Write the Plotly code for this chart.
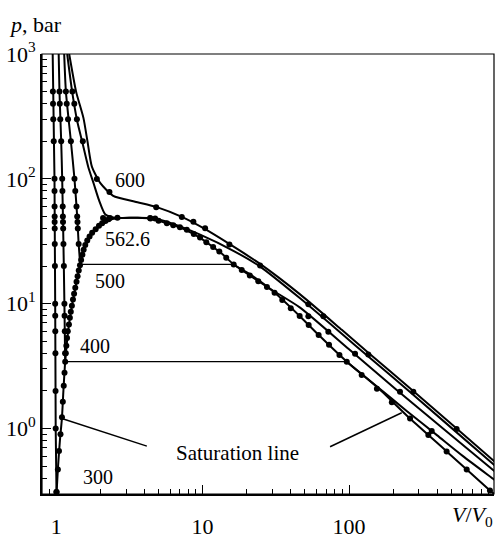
import numpy as np
import plotly.graph_objects as go

# ---------------- data ----------------
# isotherm 300 (liquid branch only)
t300_x = [1.0060, 1.0047, 0.9922, 0.9844, 0.9736, 0.9465]
t300_p = [0.28, 0.30, 1.0, 10.0, 100.0, 1000.0]

# isotherm 400
t400_liq_x = [1.040, 1.053, 1.082, 1.099, 1.121, 1.138, 1.152]
t400_liq_p = [1000, 500, 200, 100, 30, 10, 3.43]
t400_tie_x = [1.152, 96.5]
t400_tie_p = [3.43, 3.43]
t400_gas_x = [96.5, 150, 250, 400, 600, 977, 1000]
t400_gas_p = [3.43, 2.24, 1.37, 0.88, 0.60, 0.39, 0.382]

# isotherm 500
t500_liq_x = [1.134, 1.165, 1.260, 1.333, 1.391, 1.424, 1.458]
t500_liq_p = [1000, 500, 200, 100, 50, 30, 20.6]
t500_tie_x = [1.458, 16.3]
t500_tie_p = [20.6, 20.6]
t500_gas_x = [16.3, 22, 30, 46.3, 100, 211.6, 977, 1000]
t500_gas_p = [20.6, 16.2, 12.8, 9.3, 4.31, 2.03, 0.459, 0.449]

# critical isotherm 562.6
t562_x = [1.189, 1.286, 1.391, 1.504, 1.654, 1.797, 1.966, 2.16, 2.527, 3.461,
          4.594, 5.696, 9.616, 16.23, 24.69, 46.3, 89.2, 135.4, 260.9, 977, 1000]
t562_p = [1000, 497, 290.4, 199.3, 125.1, 92.8, 66.8, 52.0, 48.7, 48.8,
          48.4, 45.3, 35.7, 26.5, 19.8, 11.03, 5.74, 3.77, 1.96, 0.511, 0.499]

# isotherm 600
t600_x = [1.227, 1.369, 1.536, 1.636, 1.753, 1.997, 2.449, 3.461, 4.868, 7.211,
          10.13, 15.40, 24.69, 46.3, 89.2, 135.4, 260.9, 977, 1000]
t600_p = [1000, 497, 306.5, 199.3, 125.1, 92.8, 73.1, 65.6, 59.3, 49.5,
          40.2, 29.8, 20.8, 11.86, 6.17, 4.05, 2.10, 0.549, 0.536]

# saturation line
sat_x = [1.005, 1.03, 1.06, 1.094, 1.12, 1.152, 1.213, 1.28, 1.384, 1.458, 1.62, 1.9,
         2.22, 2.8, 3.6, 4.4, 5.69, 6.66, 8.0, 9.62, 11.85, 13.88, 16.3, 22, 30.4, 46.3,
         63.1, 96.5, 160, 261, 464, 917, 1000]
sat_p = [0.30, 0.5, 0.8, 1.2, 2.0, 3.43, 6.3, 9.6, 15.4, 20.6, 31.6, 40,
         46.5, 48.5, 48.7, 48, 44, 41.6, 38, 33.7, 28.3, 24.5, 20.6, 16.6, 12.5, 7.9,
         5.5, 3.43, 2.08, 1.20, 0.655, 0.319, 0.292]

# computed points (dots)
sat_dots_x = [1.006, 1.027, 1.045, 1.07, 1.095, 1.11, 1.126, 1.14, 1.152, 1.163, 1.173,
              1.186, 1.20, 1.222, 1.24, 1.258, 1.28, 1.302, 1.325, 1.35, 1.377, 1.40,
              1.426, 1.454, 1.48, 1.51, 1.54, 1.58, 1.63, 1.69, 1.76, 1.86, 1.96, 2.06,
              2.17, 2.28,
              4.4, 5.0, 5.7, 6.3, 7.0, 7.8, 8.7, 9.6, 10.6, 11.8, 13.0, 14.5, 16.3, 18.5,
              21, 24, 27.5, 31, 35, 40, 46, 53, 62, 73, 86, 96.5, 122, 155, 196, 261,
              348, 464, 636, 917]
sat_dots_p = [0.31, 0.47, 0.66, 0.9, 1.23, 1.64, 2.2, 2.8, 3.43, 4.0, 4.6,
              5.3, 6.0, 6.8, 7.7, 8.6, 9.6, 10.8, 12.0, 13.4, 15.0, 16.6,
              18.4, 20.3, 22.4, 24.6, 27, 29.5, 32, 34.5, 37, 39.5, 42, 44,
              46, 47.5,
              48.0, 46.2, 44.0, 42.5, 40.9, 39.0, 36.2, 33.8, 31.0, 28.4, 26.2, 23.3, 20.6, 18.6,
              16.8, 15.1, 13.6, 12.2, 10.7, 9.2, 7.95, 6.75, 5.6, 4.69, 3.88, 3.43, 2.68, 2.08,
              1.62, 1.20, 0.886, 0.655, 0.47, 0.319]

d300_x = [1.004, 0.992, 0.99, 0.988, 0.986, 0.985, 0.984, 0.98, 0.978, 0.977,
          0.976, 0.976, 0.975, 0.974, 0.974, 0.962, 0.955, 0.951, 0.949]
d300_p = [0.31, 1, 2, 4, 6, 8, 10, 20, 30, 40, 45, 50, 60, 80, 100, 200, 300, 400, 500]

d400_x = [1.150, 1.145, 1.141, 1.138, 1.128, 1.121, 1.116, 1.113, 1.111, 1.108,
          1.103, 1.099, 1.082, 1.066, 1.058, 1.053, 367]
d400_p = [4, 6, 8, 10, 20, 30, 40, 45, 50, 60, 80, 100, 200, 300, 400, 500, 0.955]

d500_x = [1.424, 1.405, 1.398, 1.391, 1.376, 1.350, 1.333, 1.260, 1.205, 1.18, 1.165,
          52.75, 72.2, 109.9, 222.8]
d500_p = [30, 40, 45, 50, 60, 80, 100, 200, 300, 400, 500,
          7.92, 5.95, 3.96, 1.97]

d562_x = [1.29, 1.33, 1.385, 1.52, 2.09, 2.33, 2.62, 4.38, 4.74]
d562_p = [500, 400, 300, 200, 48.6, 48.6, 48.8, 48.6, 48.2]

d600_x = [1.896, 2.311, 4.82, 7.21, 8.65, 10.4, 15.24, 24.69, 52.75, 66.8, 135.4, 274.8, 543]
d600_p = [99.6, 78.5, 59.3, 49.5, 45.3, 40.2, 29.8, 20.2, 9.88, 7.92, 3.91, 1.97, 0.99]

# pointer lines of the "Saturation line" label
ptr1_x = [1.093, 4.16]
ptr1_p = [1.2, 0.722]
ptr2_x = [74.2, 229]
ptr2_p = [0.714, 1.337]

x_ticks = [1, 10, 100]
x_ticktext = ["1", "10", "100"]
y_ticks = [1, 10, 100, 1000]
y_ticktext = ["10<sup>0</sup>", "10<sup>1</sup>", "10<sup>2</sup>", "10<sup>3</sup>"]
x_minor = [0.8, 0.9] + [m * d for d in (1, 10, 100) for m in range(2, 10)]
y_minor = [0.3, 0.4, 0.5, 0.6, 0.7, 0.8, 0.9] + [m * d for d in (1, 10, 100) for m in range(2, 10)]

# ---------------- figure ----------------
FONT = "Liberation Serif"
fig = go.Figure()

def add_line(x, y, width=2.0, spline=True):
    fig.add_trace(go.Scatter(x=x, y=y, mode="lines",
                             line=dict(color="black", width=width,
                                       shape="spline" if spline else "linear", smoothing=0.6),
                             hoverinfo="skip", showlegend=False, cliponaxis=True))

def add_dots(x, y, size=6):
    fig.add_trace(go.Scatter(x=x, y=y, mode="markers",
                             marker=dict(color="black", size=size, line=dict(width=0)),
                             hoverinfo="skip", showlegend=False, cliponaxis=True))

add_line(t300_x, t300_p, spline=False)
add_line(t400_liq_x, t400_liq_p)
add_line(t400_tie_x, t400_tie_p, width=1.3, spline=False)
add_line(t400_gas_x, t400_gas_p)
add_line(t500_liq_x, t500_liq_p)
add_line(t500_tie_x, t500_tie_p, width=1.3, spline=False)
add_line(t500_gas_x, t500_gas_p)
add_line(t562_x, t562_p)
add_line(t600_x, t600_p)
add_line(sat_x, sat_p)
add_line(ptr1_x, ptr1_p, width=1.5, spline=False)
add_line(ptr2_x, ptr2_p, width=1.5, spline=False)

add_dots(sat_dots_x, sat_dots_p, size=6)
add_dots(d300_x, d300_p)
add_dots(d400_x, d400_p)
add_dots(d500_x, d500_p)
add_dots(d562_x, d562_p)
add_dots(d600_x, d600_p)

labels = [("600", 3.2, 98.0), ("562.6", 3.05, 33.0), ("500", 2.34, 15.3),
          ("400", 1.85, 4.55), ("300", 1.93, 0.41)]
for txt, lx, ly in labels:
    fig.add_annotation(x=np.log10(lx), y=np.log10(ly), text=txt, showarrow=False,
                       font=dict(family=FONT, size=20, color="black"),
                       xanchor="center", yanchor="middle")
fig.add_annotation(x=np.log10(17.2), y=np.log10(0.633), text="Saturation line",
                   showarrow=False, font=dict(family=FONT, size=21, color="black"),
                   xanchor="center", yanchor="middle")

fig.add_annotation(xref="paper", yref="paper", x=-0.078, y=1.068, text="<i>p</i>, bar",
                   showarrow=False, xanchor="left", yanchor="middle",
                   font=dict(family=FONT, size=22, color="black"))
fig.add_annotation(xref="paper", yref="paper", x=1.003, y=-0.05,
                   text="<i>V</i>/<i>V</i><sub>0</sub>",
                   showarrow=False, xanchor="right", yanchor="middle",
                   font=dict(family=FONT, size=22, color="black"))

fig.add_shape(type="rect", xref="paper", yref="paper", x0=0, x1=1, y0=0, y1=1,
              line=dict(color="black", width=1.2), layer="above")

fig.update_layout(
    width=496, height=541,
    margin=dict(l=42, r=2, t=54, b=34),
    paper_bgcolor="white", plot_bgcolor="white",
    font=dict(family=FONT, size=22, color="black"),
    showlegend=False,
    xaxis=dict(type="log", range=[np.log10(0.8), 2.990], showgrid=False, zeroline=False,
               showline=True, linecolor="black", linewidth=2,
               tickmode="array", tickvals=x_ticks, ticktext=x_ticktext,
               ticks="inside", ticklen=9, tickwidth=1.3, tickcolor="black",
               ticklabelstandoff=12,
               tickfont=dict(family=FONT, size=22, color="black"),
               minor=dict(tickmode="array", tickvals=x_minor, ticks="inside",
                          ticklen=5, tickwidth=1.2, tickcolor="black", showgrid=False)),
    yaxis=dict(type="log", range=[-0.525, 3.0], showgrid=False, zeroline=False,
               showline=True, linecolor="black", linewidth=2,
               tickmode="array", tickvals=y_ticks, ticktext=y_ticktext,
               ticks="inside", ticklen=9, tickwidth=1.3, tickcolor="black",
               tickfont=dict(family=FONT, size=22, color="black"),
               minor=dict(tickmode="array", tickvals=y_minor, ticks="inside",
                          ticklen=5, tickwidth=1.2, tickcolor="black", showgrid=False)),
)

fig.write_html("out.html")
